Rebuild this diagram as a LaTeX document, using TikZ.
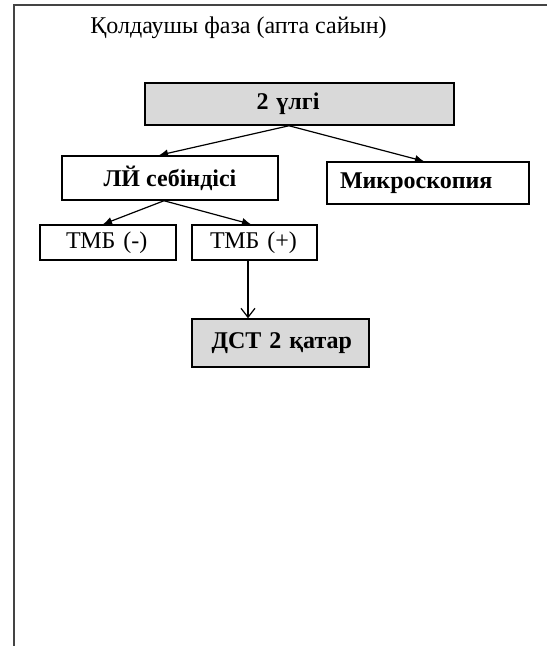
\documentclass[tikz,border=0pt]{standalone}
\usepackage{fontspec}
\setmainfont{Liberation Serif}
\usetikzlibrary{arrows.meta,calc}
\definecolor{boxgray}{HTML}{D9D9D9}
\definecolor{framegray}{HTML}{444444}
\tikzset{
  x=1pt, y=-1pt,
  every node/.style={font=\fontsize{24}{28}\selectfont},
  flowbox/.style={draw=black, line width=1.5pt, fill=white, inner sep=0pt, anchor=center},
  graybox/.style={flowbox, fill=boxgray},
  lefttext/.style={align=left, text width=#1},
  conn/.style={line width=1.2pt, -{Latex[length=9pt,width=8pt]}},
  openconn/.style={line width=1.2pt, -{Straight Barb[length=9pt,width=14pt]}},
}
\begin{document}
\begin{tikzpicture}
\useasboundingbox (0,0) rectangle (547,646);
\fill[white] (0,0) rectangle (547,646);
% frame (top and left edges)
\draw[framegray, line width=2pt] (14,646) -- (14,5) -- (547,5);
% title
\node[anchor=base] (title) at (238.5,33) {Қолдаушы фаза (апта сайын)};
% boxes
\node[graybox, minimum width=309, minimum height=42, lefttext=86] (sample) at (299.5,104) {\mbox{\bfseries 2 үлгі}};
\node[flowbox, minimum width=216, minimum height=44] (smear) at (170,178) {\bfseries ЛЙ себіндісі};
\node[flowbox, minimum width=202, minimum height=42, lefttext=176] (micro) at (428,183) {\mbox{\bfseries Микроскопия}};
\node[flowbox, minimum width=136, minimum height=35, lefttext=84] (tmbneg) at (108,242.5) {\mbox{ТМБ (-)}};
\node[flowbox, minimum width=125, minimum height=35, lefttext=89] (tmbpos) at (254.5,242.5) {\mbox{ТМБ (+)}};
\node[graybox, minimum width=177, minimum height=48, lefttext=138] (dst) at (280.5,343) {\mbox{\bfseries ДСТ 2 қатар}};
% connectors
\draw[conn] ([xshift=-10.5pt]sample.south) -- ([xshift=-11pt]smear.north);
\draw[conn] ([xshift=-10.5pt]sample.south) -- ([xshift=-4pt]micro.north);
\draw[conn] ([xshift=-6pt]smear.south) -- ([xshift=-5pt]tmbneg.north);
\draw[conn] ([xshift=-6pt]smear.south) -- ([xshift=-3.5pt]tmbpos.north);
\draw[openconn] ([xshift=-6.5pt]tmbpos.south) -- ([xshift=-6.5pt]tmbpos.south |- dst.north);
\end{tikzpicture}
\end{document}
